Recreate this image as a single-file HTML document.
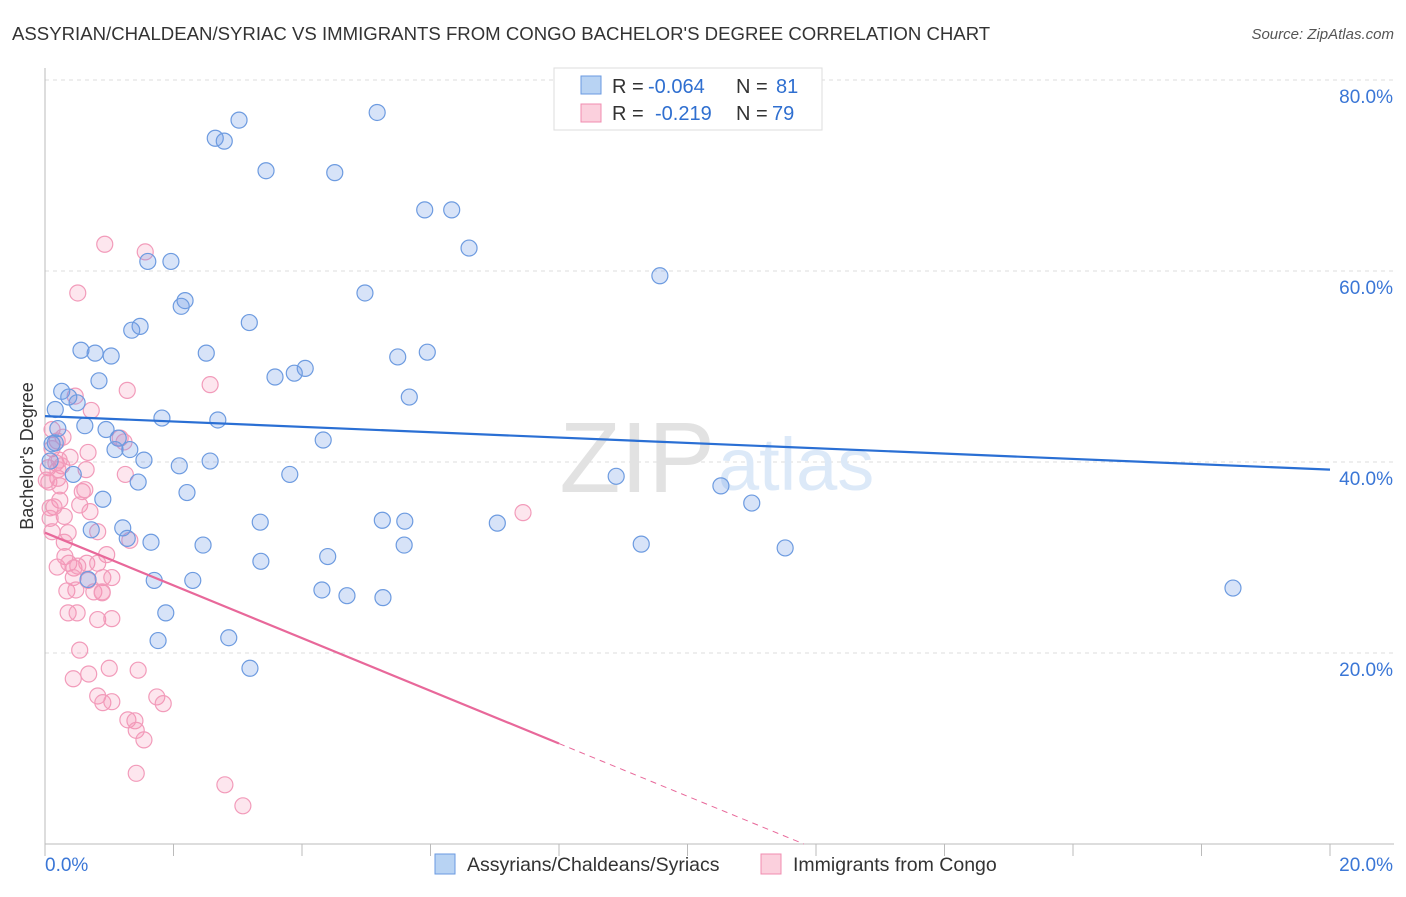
<!DOCTYPE html>
<html><head><meta charset="utf-8">
<style>
body{margin:0;background:#fff;font-family:"Liberation Sans",sans-serif;}
svg text{font-family:"Liberation Sans",sans-serif;}
</style></head>
<body>
<svg id="chart" width="1406" height="892" xmlns="http://www.w3.org/2000/svg">
<text x="12" y="40" font-size="18.6" fill="#333">ASSYRIAN/CHALDEAN/SYRIAC VS IMMIGRANTS FROM CONGO BACHELOR'S DEGREE CORRELATION CHART</text>
<text x="1394" y="39" font-size="15" fill="#555" font-style="italic" text-anchor="end">Source: ZipAtlas.com</text>
<g id="grid"></g>
<text x="715" y="492" font-size="100" fill="#e2e2e2" font-family="Liberation Serif" text-anchor="end">ZIP</text>
<text x="718" y="490" font-size="74" fill="#dce9f8">atlas</text>
<g id="pts"></g>
<g id="trends"></g>
<text x="33" y="456" font-size="18" fill="#333" text-anchor="middle" transform="rotate(-90 33 456)">Bachelor's Degree</text>
<g>
<rect x="554" y="68" width="268" height="62" fill="#fff" stroke="#ddd"/>
<rect x="581" y="76" width="20" height="18" fill="#b8d3f3" stroke="#6a9ae0"/>
<rect x="581" y="104" width="20" height="18" fill="#fbd0dd" stroke="#f08cb0"/>
<g font-size="20" fill="#333">
<text x="612" y="93">R =</text><text x="648" y="93" fill="#2f6fd0">-0.064</text><text x="736" y="93">N =</text><text x="776" y="93" fill="#2f6fd0">81</text></g>
<g font-size="20" fill="#333">
<text x="612" y="120">R =</text><text x="655" y="120" fill="#2f6fd0">-0.219</text><text x="736" y="120">N =</text><text x="772" y="120" fill="#2f6fd0">79</text></g>
</g>
<g>
<rect x="435" y="854" width="20" height="20" fill="#b8d3f3" stroke="#6a9ae0"/>
<text x="467" y="871" font-size="19.5" fill="#333">Assyrians/Chaldeans/Syriacs</text>
<rect x="761" y="854" width="20" height="20" fill="#fbd0dd" stroke="#f08cb0"/>
<text x="793" y="871" font-size="19.5" fill="#333">Immigrants from Congo</text>
</g>
</svg>
<script>
const yTicks=[20,40,60,80];
const yTickLabels=["20.0%","40.0%","60.0%","80.0%"];
const xTickLabels=["0.0%","20.0%"];
const blueX=[5.17,3.02,2.65,2.79,3.44,4.51,5.91,6.33,6.60,1.60,1.96,9.57,4.98,2.18,2.12,3.18,1.48,1.35,0.56,0.78,1.03,2.51,5.95,5.49,4.05,3.88,3.58,0.84,0.26,0.37,0.50,5.67,0.16,1.82,2.69,0.20,0.62,0.95,1.14,0.16,1.09,1.32,4.33,0.11,1.54,0.08,2.57,2.09,0.44,3.81,8.89,10.52,1.45,2.21,0.90,11.00,3.35,5.25,5.60,7.04,1.21,0.72,1.28,1.65,2.46,9.28,11.52,5.59,4.40,3.36,0.67,1.70,2.30,4.31,18.49,4.70,5.26,1.88,1.76,2.86,3.19];
const blueY=[76.6,75.8,73.9,73.6,70.5,70.3,66.4,66.4,62.4,61.0,61.0,59.5,57.7,56.9,56.3,54.6,54.2,53.8,51.7,51.4,51.1,51.4,51.5,51.0,49.8,49.3,48.9,48.5,47.4,46.8,46.2,46.8,45.5,44.6,44.4,43.5,43.8,43.4,42.5,42.0,41.3,41.3,42.3,41.9,40.2,40.1,40.1,39.6,38.7,38.7,38.5,37.5,37.9,36.8,36.1,35.7,33.7,33.9,33.8,33.6,33.1,32.9,32.0,31.6,31.3,31.4,31.0,31.3,30.1,29.6,27.7,27.6,27.6,26.6,26.8,26.0,25.8,24.2,21.3,21.6,18.4];
const pinkX=[0.93,1.56,0.51,1.28,2.57,0.47,0.72,0.11,0.28,0.19,0.11,0.39,0.67,1.17,1.23,0.17,0.26,0.05,0.64,1.25,0.20,0.06,0.58,0.23,0.08,0.14,0.54,0.70,0.30,0.08,0.11,0.36,0.82,1.32,0.30,0.31,0.96,0.19,0.37,0.45,0.65,0.51,0.82,0.44,0.90,1.04,0.67,0.34,0.48,0.76,0.89,0.82,1.04,0.36,0.50,0.54,0.68,0.44,1.00,1.45,0.82,0.90,1.04,1.74,1.84,1.29,1.40,1.42,1.54,1.42,2.80,3.08,7.44,0.22,0.02,0.89,0.23,0.62,0.20];
const pinkY=[62.8,62.0,57.7,47.5,48.1,46.9,45.4,43.4,42.6,42.2,41.4,40.5,41.0,42.5,42.1,39.9,39.6,39.4,39.2,38.7,38.3,37.9,36.9,36.0,35.2,35.3,35.5,34.8,34.3,34.1,32.7,32.6,32.7,31.8,31.6,30.1,30.3,29.0,29.4,28.9,29.4,29.1,29.4,27.9,27.9,27.9,27.6,26.5,26.6,26.4,26.3,23.5,23.6,24.2,24.2,20.3,17.8,17.3,18.4,18.2,15.5,14.8,14.9,15.4,14.7,13.0,12.9,11.9,10.9,7.4,6.2,4.0,34.7,40.2,38.1,26.4,37.5,37.1,39.2];
const blueTrend=[44.8,39.2];
const pinkTrend=[32.6,-2.76];
const NS="http://www.w3.org/2000/svg";
const X0=45,X1=1330,Y0=844;
const xs=v=>X0+v*(X1-X0)/20;
const ys=v=>Y0-v*9.55;
function mk(tag,attrs,parent){const e=document.createElementNS(NS,tag);for(const k in attrs)e.setAttribute(k,attrs[k]);parent.appendChild(e);return e;}
const grid=document.getElementById('grid');
yTicks.forEach((t,i)=>{
 const l=mk('line',{x1:X0,x2:1394,y1:ys(t),y2:ys(t),stroke:'#ddd','stroke-dasharray':'4,4'},grid);
 
 
 const tx=mk('text',{x:1393,y:ys(t)+23,'font-size':19,fill:'#3a76d6','text-anchor':'end'},grid);
 tx.textContent=yTickLabels[i];
 
 
});
const ax=mk('line',{x1:X0,x2:1394,y1:Y0,y2:Y0,stroke:'#bbb'},grid);


const ay=mk('line',{x1:X0,x2:X0,y1:68,y2:Y0,stroke:'#bbb'},grid);


for(let i=0;i<=20;i+=2){
 const tk=mk('line',{x1:xs(i),x2:xs(i),y1:Y0,y2:Y0+12,stroke:'#bbb'},grid);
 
 
}
[0,20].forEach((v,i)=>{
 const tx=mk('text',{x:i?1393:45,y:871,'font-size':19,fill:'#3a76d6','text-anchor':i?'end':'start'},grid);
 tx.textContent=xTickLabels[i];
 
 
});
const pts=document.getElementById('pts');
pinkX.forEach((x,i)=>{
 const c=mk('circle',{cx:xs(x),cy:ys(pinkY[i]),r:8,fill:'rgba(244,143,177,0.22)',stroke:'#f29bba','stroke-width':1.2},pts);
 
 
});
blueX.forEach((x,i)=>{
 const c=mk('circle',{cx:xs(x),cy:ys(blueY[i]),r:8,fill:'rgba(110,155,230,0.28)',stroke:'#6d9be0','stroke-width':1.2},pts);
 
 
});
const tr=document.getElementById('trends');
const bl=mk('line',{x1:xs(0),y1:ys(blueTrend[0]),x2:xs(20),y2:ys(blueTrend[1]),stroke:'#2a6fd4','stroke-width':2.2},tr);


const pend=8, pzero=-pinkTrend[0]/pinkTrend[1];
const pl=mk('line',{x1:xs(0),y1:ys(pinkTrend[0]),x2:xs(pend),y2:ys(pinkTrend[0]+pinkTrend[1]*pend),stroke:'#e8689a','stroke-width':2.2},tr);


const pd=mk('line',{x1:xs(pend),y1:ys(pinkTrend[0]+pinkTrend[1]*pend),x2:xs(pzero),y2:ys(0),stroke:'#e8689a','stroke-width':1,'stroke-dasharray':'6,5'},tr);


</script>
</body></html>
